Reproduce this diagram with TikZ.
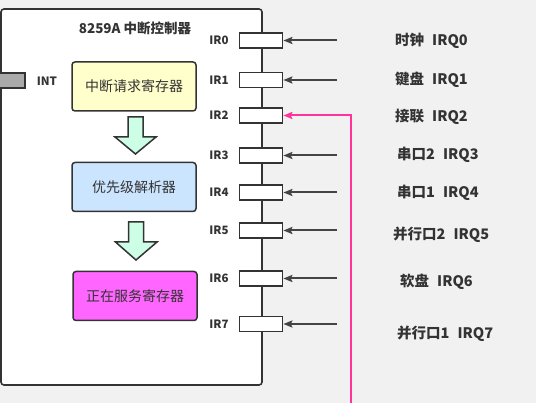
\documentclass[tikz,border=0pt]{standalone}
\usepackage{fontspec}
\setmainfont{Noto Sans CJK SC}
\usetikzlibrary{arrows.meta}
\definecolor{bg}{HTML}{F1F1F1}
\definecolor{ink}{HTML}{333333}
\definecolor{wire}{HTML}{444444}
\definecolor{reqfill}{HTML}{FFFFCC}
\definecolor{prifill}{HTML}{CCE5FF}
\definecolor{isrfill}{HTML}{FF66FF}
\definecolor{flowfill}{HTML}{CCFFE6}
\definecolor{cascade}{HTML}{FF3399}
\definecolor{intfill}{HTML}{AAAAAA}
\tikzset{
  chip/.style={draw=ink, line width=1.6pt, fill=white, rounded corners=3pt},
  regbox/.style={draw=ink, line width=1.5pt, rounded corners=3pt, minimum width=124pt,
    minimum height=49pt, inner sep=0pt, font=\fontsize{14}{16}\selectfont, text=ink},
  pin/.style={draw=ink, line width=1.7pt, fill=white, minimum width=43pt, minimum height=15pt, inner sep=0pt},
  pinlabel/.style={font=\bfseries\fontsize{11.5}{13}\selectfont, text=ink, inner sep=0pt},
  srclabel/.style={font=\bfseries\fontsize{14.5}{16}\selectfont, text=ink, inner sep=0pt, anchor=west},
  flow/.style={draw=ink, line width=1.5pt, fill=flowfill, line join=miter},
  irqline/.style={draw=wire, line width=2pt, -{Stealth[length=9pt,width=7pt,inset=1.5pt]}},
  cascadeline/.style={draw=cascade, line width=2pt, -{Stealth[length=9pt,width=7pt,inset=1.5pt]}},
}
\newcommand{\gap}{\hspace{8pt}}
\begin{document}
\begin{tikzpicture}[x=1pt,y=-1pt]
  \clip (0,0) rectangle (536,403);
  \fill[bg] (0,0) rectangle (536,403);
  \useasboundingbox (0,0) rectangle (536,403);

  % controller body
  \draw[chip] (1,9) rectangle (262,385);
  \node[font=\bfseries\fontsize{13.5}{15}\selectfont, text=ink] (title) at (135,28) {8259A 中断控制器};

  % INT output
  \draw[draw=ink, line width=1.5pt, fill=intfill] (-5,73) rectangle (25,88);
  \node[pinlabel] (intlbl) at (47,81) {INT};

  % internal registers
  \node[regbox, fill=reqfill] (irr) at (134,86.5) {中断请求寄存器};
  \node[regbox, fill=prifill] (pr)  at (134,187)  {优先级解析器};
  \node[regbox, fill=isrfill] (isr) at (135,296)  {正在服务寄存器};

  % data flow between registers
  \draw[flow] (128,117) -- (143,117) -- (143,137) -- (156,137) -- (135.5,154)
              -- (115,137) -- (128,137) -- cycle;
  \draw[flow] (128.5,222) -- (143.5,222) -- (143.5,242) -- (157,242) -- (136,260)
              -- (115.5,242) -- (128.5,242) -- cycle;

  % IR pins
  \foreach \i/\y in {0/40.5,1/80,2/115.5,3/155.5,4/192.5,5/230.5,6/278.5,7/324}{
    \node[pin] (pin\i) at (261,\y) {};
    \node[pinlabel] (ir\i) at (219,\y) {IR\i};
    \coordinate (src\i) at (337,\y);
  }

  % interrupt sources
  \node[srclabel] (dev0) at (395,41)  {时钟\gap IRQ0};
  \node[srclabel] (dev1) at (395,80)  {键盘\gap IRQ1};
  \node[srclabel] (dev2) at (395,117) {接联\gap IRQ2};
  \node[srclabel] (dev3) at (397,155) {串口2\gap IRQ3};
  \node[srclabel] (dev4) at (397,193) {串口1\gap IRQ4};
  \node[srclabel] (dev5) at (393,235) {并行口2\gap IRQ5};
  \node[srclabel] (dev6) at (400,282) {软盘\gap IRQ6};
  \node[srclabel] (dev7) at (397,334) {并行口1\gap IRQ7};

  \foreach \i in {0,1,3,4,5,6,7}{
    \draw[irqline] (src\i) -- (pin\i.east);
  }

  % cascade input from the slave controller
  \coordinate (slave) at (351,410);
  \draw[cascadeline] (slave) |- (pin2.east);
\end{tikzpicture}
\end{document}
